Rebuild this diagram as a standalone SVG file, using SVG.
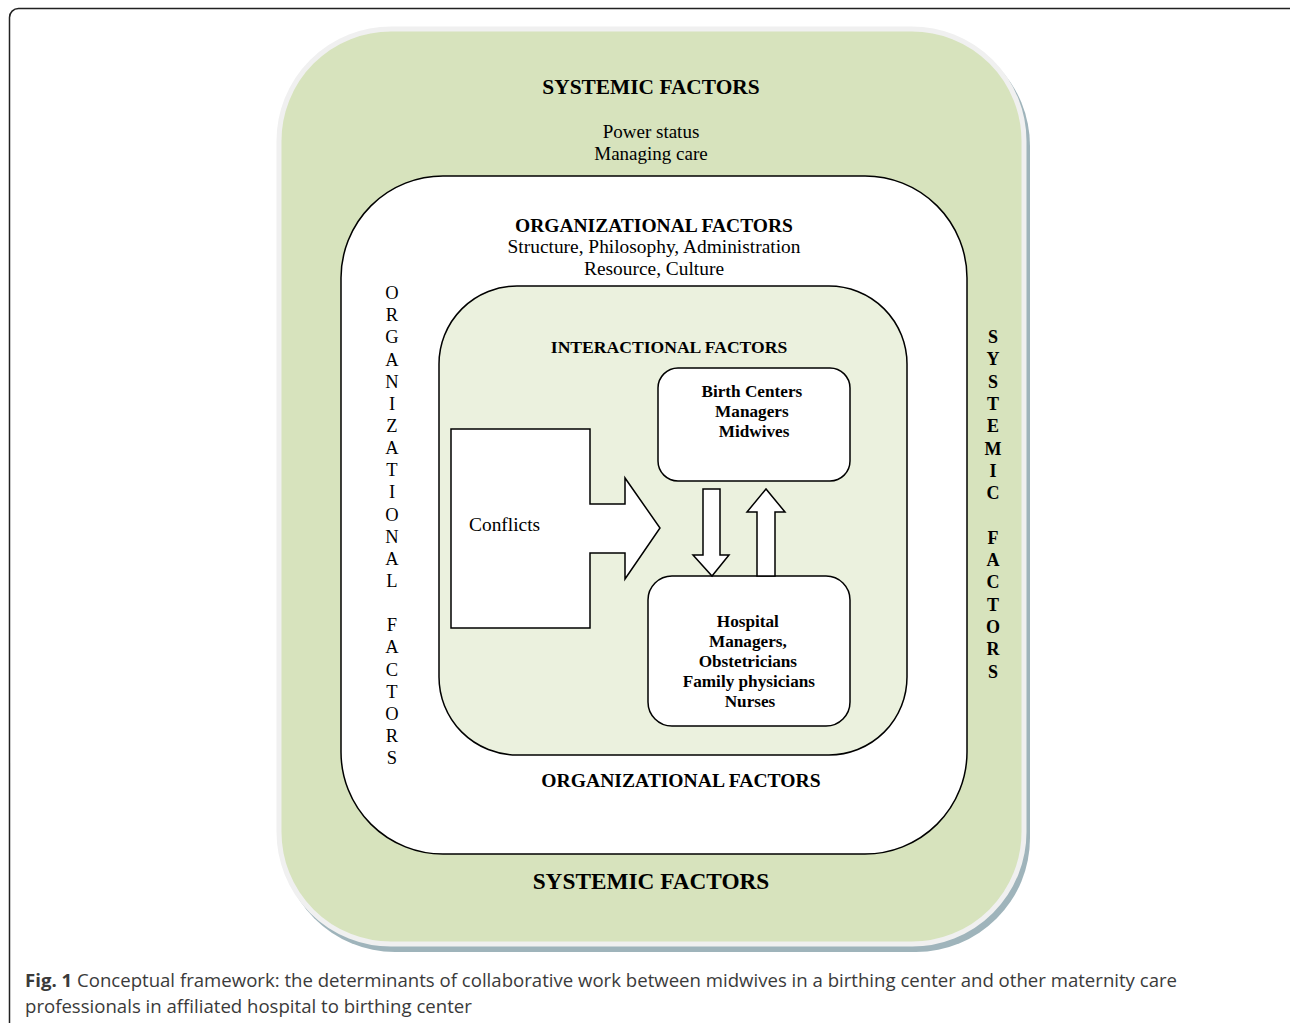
<svg xmlns="http://www.w3.org/2000/svg" width="1290" height="1023" viewBox="0 0 1290 1023">
  <style>
    .serif { font-family: "Liberation Serif", "Times New Roman", serif; fill: #000; }
    .b { font-weight: bold; }
    .mid { text-anchor: middle; }
    .box { fill: #fff; stroke: #000; stroke-width: 1.5; }
    .cap { font-family: "Open Sans", "Noto Sans", sans-serif; fill: #3a3a3a; font-size: 18.6px; }
  </style>

  <!-- page frame -->
  <rect x="9.5" y="8.5" width="1300" height="1030" rx="9" fill="#fff" stroke="#222" stroke-width="1.5"/>

  <!-- systemic layer -->
  <g id="systemic">
    <rect x="281" y="32" width="749" height="920" rx="114" fill="#9fb4bb"/>
    <rect x="279" y="29" width="745" height="915" rx="112" fill="#d7e3bd" stroke="#f0f0f0" stroke-width="5"/>
    <text class="serif b mid" x="651" y="94" font-size="21.4">SYSTEMIC FACTORS</text>
    <text class="serif mid" x="651" y="138" font-size="19">Power status</text>
    <text class="serif mid" x="651" y="160" font-size="19">Managing care</text>
    <text class="serif b mid" x="651" y="889" font-size="23.3">SYSTEMIC FACTORS</text>
    <text class="serif b mid" font-size="18">
      <tspan x="993" y="343">S</tspan><tspan x="993" y="365.3">Y</tspan><tspan x="993" y="387.6">S</tspan><tspan x="993" y="409.9">T</tspan><tspan x="993" y="432.2">E</tspan><tspan x="993" y="454.5">M</tspan><tspan x="993" y="476.8">I</tspan><tspan x="993" y="499.1">C</tspan><tspan x="993" y="543.7">F</tspan><tspan x="993" y="566">A</tspan><tspan x="993" y="588.3">C</tspan><tspan x="993" y="610.6">T</tspan><tspan x="993" y="632.9">O</tspan><tspan x="993" y="655.2">R</tspan><tspan x="993" y="677.5">S</tspan>
    </text>
  </g>

  <!-- organizational layer -->
  <g id="organizational">
    <rect class="box" x="341" y="176" width="626" height="678" rx="102"/>
    <text class="serif b mid" x="654" y="232" font-size="19.5">ORGANIZATIONAL FACTORS</text>
    <text class="serif mid" x="654" y="253" font-size="19.4">Structure, Philosophy, Administration</text>
    <text class="serif mid" x="654" y="275" font-size="19.4">Resource, Culture</text>
    <text class="serif b mid" x="681" y="787" font-size="19.6">ORGANIZATIONAL FACTORS</text>
    <text class="serif mid" font-size="18.5">
      <tspan x="392" y="299">O</tspan><tspan x="392" y="321.2">R</tspan><tspan x="392" y="343.3">G</tspan><tspan x="392" y="365.5">A</tspan><tspan x="392" y="387.6">N</tspan><tspan x="392" y="409.8">I</tspan><tspan x="392" y="431.9">Z</tspan><tspan x="392" y="454.1">A</tspan><tspan x="392" y="476.2">T</tspan><tspan x="392" y="498.4">I</tspan><tspan x="392" y="520.5">O</tspan><tspan x="392" y="542.7">N</tspan><tspan x="392" y="564.8">A</tspan><tspan x="392" y="587">L</tspan><tspan x="392" y="631.3">F</tspan><tspan x="392" y="653.4">A</tspan><tspan x="392" y="675.6">C</tspan><tspan x="392" y="697.7">T</tspan><tspan x="392" y="719.9">O</tspan><tspan x="392" y="742">R</tspan><tspan x="392" y="764.2">S</tspan>
    </text>
  </g>

  <!-- interactional layer -->
  <g id="interactional">
    <rect x="439" y="286" width="468" height="469" rx="78" fill="#ebf1de" stroke="#000" stroke-width="1.5"/>
    <text class="serif b mid" x="669" y="353" font-size="17.6">INTERACTIONAL FACTORS</text>
  </g>

  <g id="conflicts">
    <polygon class="box" points="451,429 590,429 590,504 625,504 625,478 660,528 625,579 625,553 590,553 590,628 451,628"/>
    <text class="serif" x="469" y="531" font-size="19.4">Conflicts</text>
  </g>

  <g id="birth-centers">
    <rect class="box" x="658" y="368" width="192" height="113" rx="20"/>
    <text class="serif b mid" font-size="17.2">
      <tspan x="754" y="397">Birth Centers</tspan>
      <tspan x="754" y="417">Managers</tspan>
      <tspan x="754" y="437">Midwives</tspan>
    </text>
  </g>

  <g id="hospital">
    <rect class="box" x="648" y="576" width="202" height="150" rx="24"/>
    <text class="serif b mid" font-size="17.2">
      <tspan x="750" y="627">Hospital</tspan>
      <tspan x="750" y="647">Managers,</tspan>
      <tspan x="750" y="667">Obstetricians</tspan>
      <tspan x="751" y="687">Family physicians</tspan>
      <tspan x="750" y="707">Nurses</tspan>
    </text>
  </g>

  <!-- block arrows between the two groups -->
  <g id="connectors">
    <polygon class="box" points="703,489 720,489 720,555 729,555 712,576 693,555 703,555"/>
    <polygon class="box" points="757,576 775,576 775,512 785,512 766,489 747,512 757,512"/>
  </g>

  <!-- caption -->
  <text class="cap" x="25" y="987"><tspan font-weight="bold">Fig. 1</tspan> Conceptual framework: the determinants of collaborative work between midwives in a birthing center and other maternity care</text>
  <text class="cap" x="25" y="1013">professionals in affiliated hospital to birthing center</text>
</svg>
